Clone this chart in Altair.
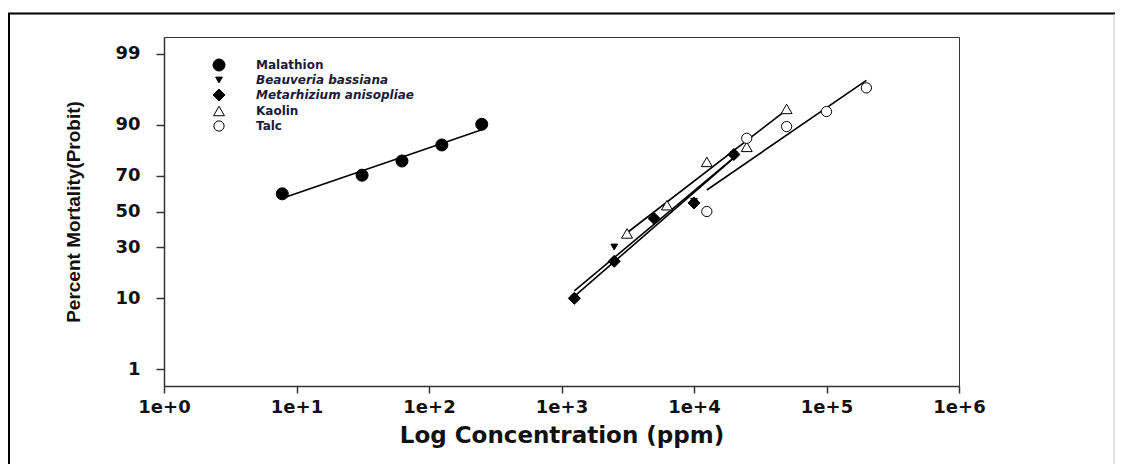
import altair as alt
import pandas as pd
from statistics import NormalDist

# ---- data ----
series_names = ["Malathion", "Beauveria bassiana", "Metarhizium anisopliae", "Kaolin", "Talc"]

malathion_conc = [7.8125, 31.25, 62.5, 125, 250]
malathion_mort = [60.3, 70.4, 77.2, 83.7, 90.1]

beauveria_conc = [1250, 2500, 5000, 10000, 20000]
beauveria_mort = [10, 30, 45, 56, 80]

metarhizium_conc = [1250, 2500, 5000, 10000, 20000]
metarhizium_mort = [10, 23.1, 45.9, 55, 80]

kaolin_conc = [3125, 6250, 12500, 25000, 50000]
kaolin_mort = [37.3, 53.7, 76.8, 83, 93.5]

talc_conc = [12500, 25000, 50000, 100000, 200000]
talc_mort = [50, 86, 89.5, 93, 96.6]

y_tick_labels = [1, 10, 30, 50, 70, 90, 99]
x_tick_values = [1, 10, 100, 1000, 10000, 100000, 1000000]

shapes = ["circle", "triangle-down", "diamond", "triangle-up", "circle"]
fills = ["black", "black", "black", "white", "white"]
strokes = ["black", "black", "black", "black", "black"]
sizes = [145, 45, 145, 120, 105]

# ---- table ----
rows = []
for name, cs, ms in [
    ("Malathion", malathion_conc, malathion_mort),
    ("Beauveria bassiana", beauveria_conc, beauveria_mort),
    ("Metarhizium anisopliae", metarhizium_conc, metarhizium_mort),
    ("Kaolin", kaolin_conc, kaolin_mort),
    ("Talc", talc_conc, talc_mort),
]:
    for c, m in zip(cs, ms):
        rows.append({"series": name, "conc": c, "mort": m})
df = pd.DataFrame(rows)

nd = NormalDist()
y_ticks = [nd.inv_cdf(v / 100) for v in y_tick_labels]
y_dom = [nd.inv_cdf(0.005), nd.inv_cdf(0.995)]

x_scale = alt.Scale(type="log", domain=[1, 1000000])
y_scale = alt.Scale(domain=y_dom, zero=False, nice=False)

x_axis = alt.Axis(
    values=x_tick_values, format=".0e", title="Log Concentration (ppm)",
    grid=False, tickSize=7, tickWidth=1.5, tickColor="#333",
    domainColor="#333", domainWidth=1.5,
    labelFont="DejaVu Sans", labelFontSize=18, labelFontWeight="bold", labelColor="#111",
    labelPadding=5, labelFlush=False,
    titleFont="DejaVu Sans", titleFontSize=23, titleFontWeight="bold", titleColor="#111",
    titlePadding=8,
)
y_axis = alt.Axis(
    values=y_ticks, labelExpr="format(cumulativeNormal(datum.value) * 100, '.0f')",
    title="Percent Mortality(Probit)",
    grid=False, tickSize=8, tickWidth=1.5, tickColor="#333",
    domainColor="#333", domainWidth=1.5,
    labelFont="DejaVu Sans", labelFontSize=18, labelFontWeight="bold", labelColor="#111",
    labelPadding=16,
    titleFont="Liberation Sans", titleFontSize=19, titleFontWeight="bold", titleColor="#111",
    titlePadding=31,
)

legend = alt.Legend(
    title=None, orient="none", legendX=48, legendY=21, padding=0,
    labelOffset=30, rowPadding=0, labelLimit=400,
    symbolStrokeColor="black", symbolStrokeWidth=1,
    labelFont="DejaVu Sans", labelFontSize=12, labelFontWeight="bold", labelColor="#1a1a3a",
    labelFontStyle={"expr": "indexof(['Beauveria bassiana','Metarhizium anisopliae'], datum.value) >= 0 ? 'italic' : 'normal'"},
)

base = alt.Chart(df).transform_calculate(
    probit="quantileNormal(datum.mort / 100)",
    logx="log(datum.conc) / LN10",
)

lines = base.transform_regression(
    "logx", "probit", groupby=["series"], method="linear"
).transform_calculate(
    conc="pow(10, datum.logx)"
).mark_line(color="black", strokeWidth=1.6).encode(
    x=alt.X("conc:Q", scale=x_scale, axis=x_axis),
    y=alt.Y("probit:Q", scale=y_scale, axis=y_axis),
    detail="series:N",
)

points = base.mark_point(filled=False, strokeWidth=1, opacity=1).encode(
    x=alt.X("conc:Q", scale=x_scale, axis=x_axis),
    y=alt.Y("probit:Q", scale=y_scale, axis=y_axis),
    shape=alt.Shape("series:N", scale=alt.Scale(domain=series_names, range=shapes), legend=legend),
    fill=alt.Fill("series:N", scale=alt.Scale(domain=series_names, range=fills), legend=legend),
    stroke=alt.Stroke("series:N", scale=alt.Scale(domain=series_names, range=strokes), legend=legend),
    size=alt.Size("series:N", scale=alt.Scale(type="ordinal", domain=series_names, range=sizes), legend=legend),
)

frame_df = pd.DataFrame({"k": [0]})
top_line = alt.Chart(frame_df).mark_rule(color="black", strokeWidth=2).encode(
    x=alt.value(-156), x2=alt.value(960), y=alt.value(-23.5)
)
left_line = alt.Chart(frame_df).mark_rule(color="black", strokeWidth=2).encode(
    x=alt.value(-155), y=alt.value(-24), y2=alt.value(440)
)
right_line = alt.Chart(frame_df).mark_rule(color="#c8c8c8", strokeWidth=1).encode(
    x=alt.value(950), y=alt.value(-23), y2=alt.value(440)
)

chart = alt.layer(lines, points, top_line, left_line, right_line).properties(
    width=795, height=349,
    autosize=alt.AutoSizeParams(type="none"),
    padding={"left": 156, "top": 29, "right": 156, "bottom": 78},
    background="white",
).configure_view(stroke="#333", strokeWidth=1)

chart.save("out.html", embed_options={"renderer": "svg", "actions": False})
